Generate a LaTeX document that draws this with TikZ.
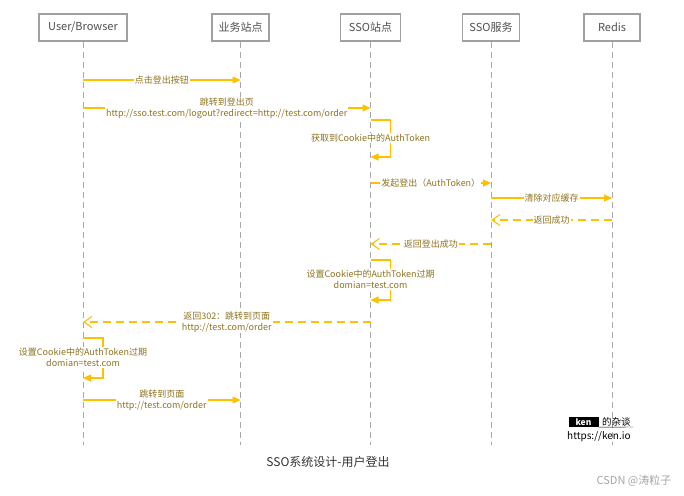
\documentclass[tikz,border=0pt]{standalone}
\usepackage{fontspec}
\newfontfamily\cjk{Noto Sans CJK SC}
\usetikzlibrary{arrows.meta,calc}
\definecolor{amber}{HTML}{FFC000}
\definecolor{lbl}{HTML}{8F7320}
\definecolor{boxgray}{HTML}{A0A0A0}
\definecolor{lifegray}{HTML}{A8A8A8}
\definecolor{boxtext}{HTML}{505050}
\begin{document}
\begin{tikzpicture}[x=1pt,y=-1pt,
  actor/.style={draw=boxgray, line width=1.8pt, fill=white, minimum height=27pt, inner sep=0pt, text=boxtext, font=\cjk\fontsize{11}{13}\selectfont},
  life/.style={draw=lifegray, line width=0.8pt, dash pattern=on 6pt off 4pt},
  msg/.style={draw=amber, line width=1.1pt, -{Triangle[length=8pt,width=7pt]}},
  ret/.style={draw=amber, line width=1.1pt, dash pattern=on 8pt off 5pt, -{Straight Barb[length=8pt,width=11pt]}},
  lab/.style={fill=white, text=lbl, font=\cjk\fontsize{9}{11}\selectfont, inner sep=1pt, align=center},
]
\fill[white] (0,0) rectangle (684,495);
\useasboundingbox (0,0) rectangle (684,495);

\node[actor, minimum width=88pt] (user) at (83,27.5) {User/Browser};
\node[actor, minimum width=57pt] (biz) at (240.5,27.5) {业务站点};
\node[actor, minimum width=60pt] (ssos) at (370.5,27.5) {SSO站点};
\node[actor, minimum width=57pt] (ssov) at (491,27.5) {SSO服务};
\node[actor, minimum width=56pt] (redis) at (612,27.5) {Redis};

\coordinate (bottom) at (0,445);
\foreach \n in {user,biz,ssos,ssov,redis}
  \draw[life] (\n.south) -- (\n.south |- bottom);

% rows
\coordinate (r1) at (0,80);
\coordinate (r2) at (0,108);
\coordinate (r3a) at (0,120);
\coordinate (r3b) at (0,157);
\coordinate (r3l) at (0,138);
\coordinate (r4) at (0,183);
\coordinate (r5) at (0,198);
\coordinate (r6) at (0,220);
\coordinate (r7) at (0,244);
\coordinate (r8a) at (0,260);
\coordinate (r8b) at (0,300);
\coordinate (r8l) at (0,279.5);
\coordinate (r9) at (0,322);
\coordinate (r10a) at (0,338);
\coordinate (r10b) at (0,378);
\coordinate (r10l) at (0,357.5);
\coordinate (r11) at (0,400);

\draw[msg] (user |- r1) -- (biz |- r1) node[lab, midway] {点击登出按钮};
\draw[msg] (user |- r2) -- (ssos |- r2) node[lab, midway] {跳转到登出页\\http://sso.test.com/logout?redirect=http://test.com/order};
\draw[msg] (ssos |- r3a) -- ++(20,0) |- (ssos |- r3b);
\node[lab] (l3) at (ssos |- r3l) {获取到Cookie中的AuthToken};
\draw[msg] (ssos |- r4) -- (ssov |- r4) node[lab, midway] {发起登出（AuthToken）};
\draw[msg] (ssov |- r5) -- (redis |- r5) node[lab, midway] {清除对应缓存};
\draw[ret] (redis |- r6) -- (ssov |- r6) node[lab, midway] {返回成功};
\draw[ret] (ssov |- r7) -- (ssos |- r7) node[lab, midway] {返回登出成功};
\draw[msg] (ssos |- r8a) -- ++(20,0) |- (ssos |- r8b);
\node[lab] (l8) at (ssos |- r8l) {设置Cookie中的AuthToken过期\\domian=test.com};
\draw[ret] (ssos |- r9) -- (user |- r9) node[lab, midway] {返回302：跳转到页面\\http://test.com/order};
\draw[msg] (user |- r10a) -- ++(20,0) |- (user |- r10b);
\node[lab] (l10) at (user |- r10l) {设置Cookie中的AuthToken过期\\domian=test.com};
\draw[msg] (user |- r11) -- (biz |- r11) node[lab, midway] {跳转到页面\\http://test.com/order};

\node[text=black!80, font=\cjk\fontsize{12}{14}\selectfont] (cap) at (328,462) {SSO系统设计-用户登出};

\node[fill=black, text=white, font=\cjk\bfseries\fontsize{8.5}{9}\selectfont, minimum width=30pt, minimum height=10pt, inner sep=0pt] (kenbox) at (583.5,422) {ken};
\node[font=\cjk\fontsize{9.5}{10}\selectfont, anchor=west, inner sep=1pt] (kentxt) at (601,421.5) {的杂谈};
\coordinate (kenend) at (633,427);
\draw[black, line width=0.4pt] (kenbox.south east) -- (kenend);
\node[font=\cjk\fontsize{10}{11}\selectfont, anchor=west, inner sep=1pt] (url) at (566,437) {https://ken.io};

\node[text=black!35, font=\cjk\fontsize{11}{12}\selectfont] (csdn) at (634,481) {CSDN @涛粒子};
\end{tikzpicture}
\end{document}
